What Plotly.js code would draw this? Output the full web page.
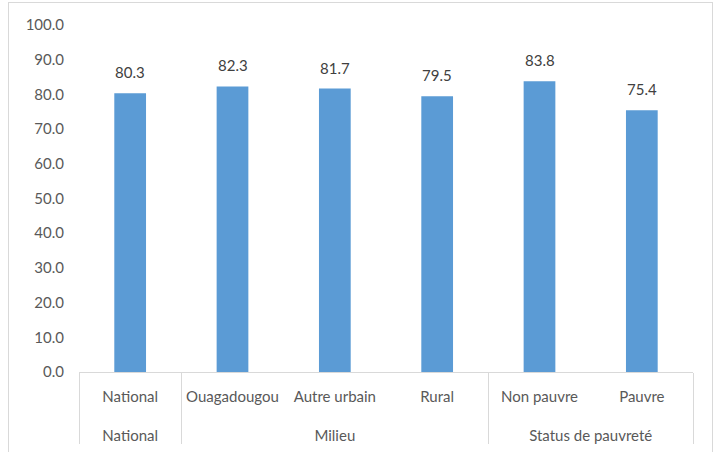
<!DOCTYPE html>
<html>
<head>
<meta charset="utf-8">
<script src="https://cdn.plot.ly/plotly-3.0.1.min.js"></script>
<style>
html,body{margin:0;padding:0;background:#fff;}
#wrap{position:relative;width:719px;height:452px;overflow:hidden;}
#chart{width:719px;height:452px;}
#frame{position:absolute;left:8px;top:2px;width:703px;height:470px;border:1px solid #d9d9d9;pointer-events:none;}
</style>
</head>
<body>
<div id="wrap"><div id="chart"></div><div id="frame"></div></div>
<script>
const groups = ["National", "Milieu", "Milieu", "Milieu", "Status de pauvreté", "Status de pauvreté"];
const categories = ["National", "Ouagadougou", "Autre urbain", "Rural", "Non pauvre", "Pauvre"];
const values = [80.3, 82.3, 81.7, 79.5, 83.8, 75.4];

const font = "Lato, 'Open Sans', sans-serif";
const lbl = s => "<span style='font-size:15px'>" + s + "</span>";

const trace = {
  type: "bar",
  x: [groups.map(g => "<br>" + lbl(g)), categories.map(lbl)],
  y: values,
  marker: {color: "#5b9bd5"},
  hoverinfo: "none"
};

const annotations = values.map((v, i) => ({
  x: i, y: v, xref: "x", yref: "y",
  text: v.toFixed(1),
  showarrow: false,
  yanchor: "bottom",
  yshift: 10,
  font: {family: font, size: 15, color: "#404040"}
}));

const layout = {
  width: 719, height: 452,
  margin: {l: 79, r: 26, t: 24.5, b: 80},
  paper_bgcolor: "#fff", plot_bgcolor: "#fff",
  bargap: 0.69,
  showlegend: false,
  xaxis: {
    type: "multicategory",
    showline: true, linecolor: "#d9d9d9", linewidth: 1,
    showdividers: true, dividercolor: "#d9d9d9", dividerwidth: 1,
    tickfont: {family: font, size: 19, color: "#595959"},
    ticklabelstandoff: 6,
    ticks: "", showgrid: false, zeroline: false
  },
  yaxis: {
    range: [0, 100], dtick: 10, tickformat: ".1f",
    showgrid: false, zeroline: false, showline: false, ticks: "",
    ticklabelstandoff: 14,
    tickfont: {family: font, size: 15, color: "#595959"}
  },
  annotations: annotations
};

Plotly.newPlot("chart", [trace], layout, {displayModeBar: false, staticPlot: true});
</script>
</body>
</html>
